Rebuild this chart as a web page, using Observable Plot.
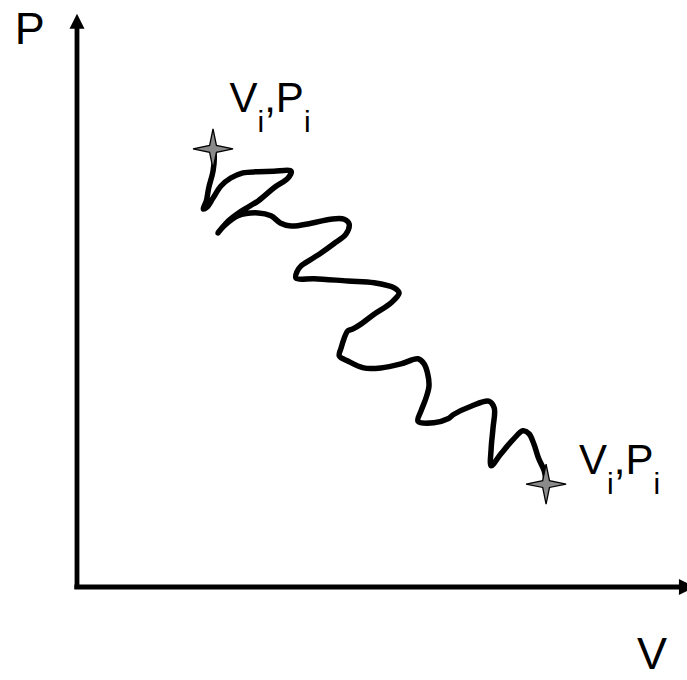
<!DOCTYPE html>
<html>
<head>
<meta charset="utf-8">
<script src="https://cdn.jsdelivr.net/npm/d3@7"></script>
<script src="https://cdn.jsdelivr.net/npm/@observablehq/plot@0.6"></script>
<style>
  html, body { margin: 0; padding: 0; background: #fff; }
  #chart svg { display: block; }
</style>
</head>
<body>
<div id="chart"></div>
<script>
// Path from (Vi,Pi) to (Vf,Pf) in arbitrary units (axis origin at 0,0; axes run to ~100)
const pathV = [22.3, 22.5, 22.3, 21.6, 21.2, 20.7, 21.3, 22.3, 23.6, 25.2, 27.2, 29.7, 32.3, 35.1,
  34.6, 32.3, 29.7, 26.9, 24.8, 23.1, 24.1, 26.4, 29.7, 31.8, 33.4, 35.1, 38.4, 41.6, 43.8, 44.6,
  44.1, 42.1, 40.0, 38.4, 36.7, 36.1, 35.9, 38.9, 44.4, 48.7, 52.0, 52.8, 51.5, 48.7, 46.6, 45.2,
  44.4, 43.8, 43.3, 43.0, 44.4, 47.0, 49.8, 53.1, 55.9, 56.9, 57.5, 57.7, 57.2, 56.4, 55.9, 58.5,
  60.8, 61.8, 64.6, 67.5, 68.4, 68.2, 67.9, 67.9, 69.5, 71.6, 73.1, 74.1, 74.9, 75.7, 76.6, 76.9];
const pathP = [76.6, 75.4, 72.7, 69.8, 67.5, 66.1, 66.4, 68.0, 70.1, 71.5, 72.4, 72.6, 72.7, 72.7,
  71.5, 69.8, 67.5, 65.7, 64.0, 61.9, 63.1, 64.9, 65.4, 64.9, 63.6, 63.1, 63.6, 64.3, 64.3, 63.5,
  61.7, 60.0, 58.4, 57.3, 56.1, 55.2, 54.0, 53.9, 53.5, 53.2, 52.3, 51.4, 49.7, 47.7, 46.0, 45.1,
  44.8, 43.5, 41.8, 40.4, 39.5, 38.3, 38.3, 39.0, 39.9, 39.0, 37.2, 35.1, 33.0, 30.8, 29.0, 28.7,
  29.4, 30.2, 31.6, 32.5, 31.3, 27.8, 24.3, 21.2, 23.3, 25.9, 27.3, 26.8, 25.0, 22.4, 20.3, 18.0];

// End-point markers
const endV = [22.3, 76.9];
const endP = [76.6, 18.0];

// End-point labels
const labelText = ["V_i,P_i", "V_i,P_i"];
const labelV = [25.0, 82.3];
const labelP = [83.0, 19.8];

// Axis titles
const axisTitle = ["P", "V"];
const axisTitleV = [-10.2, 91.8];
const axisTitleP = [94.9, -14.4];

// Axis extents
const axisTipV = 101.3;   // horizontal arrow tip
const axisTipP = 100.2;   // vertical arrow tip

const FONT = "'Liberation Sans', Arial, Helvetica, sans-serif";

const pts = pathV.map((v, i) => ({V: v, P: pathP[i]}));
const ends = endV.map((v, i) => ({V: v, P: endP[i]}));
const labels = labelText.map((t, i) => ({t, V: labelV[i], P: labelP[i]}));
const titles = axisTitle.map((t, i) => ({t, V: axisTitleV[i], P: axisTitleP[i]}));

const sparkle = {
  draw(ctx, size) {
    const R = Math.sqrt(size / Math.PI), r = R * 0.17;
    ctx.moveTo(0, -R); ctx.lineTo(r, -r); ctx.lineTo(R, 0); ctx.lineTo(r, r);
    ctx.lineTo(0, R); ctx.lineTo(-r, r); ctx.lineTo(-R, 0); ctx.lineTo(-r, -r);
    ctx.closePath();
  }
};
const arrowHead = {
  draw(ctx, size) {
    const L = Math.sqrt(size / Math.PI);
    ctx.moveTo(0, 0); ctx.lineTo(L / 2, L); ctx.lineTo(-L / 2, L); ctx.closePath();
  }
};

const vAxis = [{x: 0, y1: -0.45, y2: axisTipP - 2.2}];
const hAxis = [{y: 0, x1: -0.35, x2: axisTipV - 2.2}];

const plot = Plot.plot({
  width: 687,
  height: 680,
  margin: 0,
  x: {domain: [0, 100], range: [76.5, 686.5], axis: null},
  y: {domain: [0, 100], range: [586.5, 14.5], axis: null},
  style: {background: "#fff", fontFamily: FONT},
  marks: [
    Plot.ruleX(vAxis, {x: "x", y1: "y1", y2: "y2", stroke: "black", strokeWidth: 4.8}),
    Plot.ruleY(hAxis, {y: "y", x1: "x1", x2: "x2", stroke: "black", strokeWidth: 5}),
    Plot.dot([{V: 0, P: axisTipP}], {x: "V", y: "P", symbol: arrowHead, r: 15, fill: "black", stroke: "none"}),
    Plot.dot([{V: axisTipV, P: 0}], {x: "V", y: "P", symbol: arrowHead, r: 16, rotate: 90, fill: "black", stroke: "none"}),
    Plot.line(pts, {x: "V", y: "P", curve: "catmull-rom", stroke: "black", strokeWidth: 5.5,
      strokeLinejoin: "round", strokeLinecap: "round"}),
    Plot.dot(ends, {x: "V", y: "P", symbol: sparkle, r: 20, fill: "#8a8a8a", stroke: "black", strokeWidth: 1.3}),
    Plot.text(labels, {x: "V", y: "P", text: "t", className: "sublabel", textAnchor: "start",
      lineAnchor: "bottom", fontSize: 42, fill: "black", fontFamily: FONT}),
    Plot.text(titles, {x: "V", y: "P", text: "t", textAnchor: "start", lineAnchor: "bottom",
      fontSize: 45, fill: "black", fontFamily: FONT})
  ]
});

// Turn "X_s" into a subscripted tspan
d3.select(plot).selectAll("g.sublabel text").each(function() {
  const el = d3.select(this);
  const raw = el.text();
  el.text(null);
  const parts = raw.split(/_(\w)/);
  let shifted = false;
  parts.forEach((p, k) => {
    if (!p) return;
    const ts = el.append("tspan").text(p);
    if (k % 2 === 1) { ts.attr("font-size", 30).attr("dy", shifted ? 0 : 20); shifted = true; }
    else if (shifted) { ts.attr("dy", -20); shifted = false; }
  });
});

document.getElementById("chart").appendChild(plot);
</script>
</body>
</html>
